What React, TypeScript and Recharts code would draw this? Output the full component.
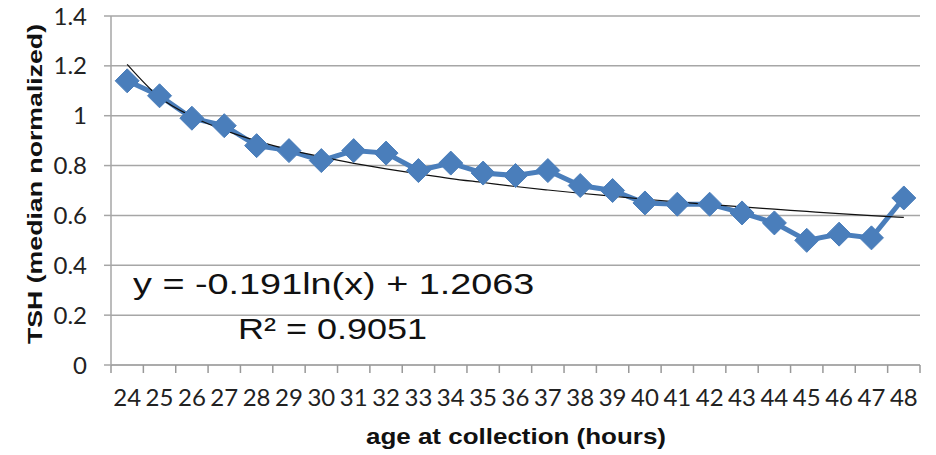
import React from 'react';
import { ComposedChart, Line, XAxis, YAxis, CartesianGrid } from 'recharts';

// age at collection (hours)
const ages = [24, 25, 26, 27, 28, 29, 30, 31, 32, 33, 34, 35, 36, 37, 38, 39, 40, 41, 42, 43, 44, 45, 46, 47, 48];

// TSH median normalized
const tsh = [1.14, 1.08, 0.99, 0.96, 0.88, 0.86, 0.82, 0.86, 0.85, 0.78, 0.81, 0.77, 0.76, 0.78, 0.72, 0.7, 0.65, 0.645, 0.645, 0.61, 0.57, 0.5, 0.525, 0.51, 0.67];

// log trend line as drawn (y = -0.191ln(x) + 1.2063)
const trend = [1.206, 1.074, 0.997, 0.942, 0.899, 0.864, 0.835, 0.809, 0.787, 0.767, 0.748, 0.732, 0.716, 0.702, 0.689, 0.677, 0.665, 0.654, 0.644, 0.634, 0.625, 0.616, 0.607, 0.599, 0.592];

const yTicks = [0, 0.2, 0.4, 0.6, 0.8, 1, 1.2, 1.4];

const data = ages.map((age, i) => ({ age, tsh: tsh[i], trend: trend[i] }));
// category boundaries, where Excel puts its tick marks
const edges = [...ages.map((a) => a - 0.5), ages[ages.length - 1] + 0.5];

const BLUE = '#4a7ebb';
const GRID = '#a6a6a6';

const Diamond = (props: any) => {
  const { cx, cy } = props;
  if (cx == null || cy == null) return null;
  const r = 12;
  return (
    <polygon
      points={`${cx},${cy - r} ${cx + r},${cy} ${cx},${cy + r} ${cx - r},${cy}`}
      fill={BLUE}
      stroke={BLUE}
    />
  );
};

const tickFont = { fontFamily: 'Lato, sans-serif', fontSize: 24, fill: '#222' };
const arial = '"Liberation Sans", Arial, sans-serif';

export default function App() {
  return (
    <div style={{ position: 'absolute', left: 0, top: 0, width: 936, height: 455, background: '#fff' }}>
      <ComposedChart width={936} height={455} data={data} margin={{ top: 16, right: 16, bottom: 0, left: 0 }}>
        <CartesianGrid vertical={false} stroke={GRID} strokeWidth={1.5} />
        {/* axis line + tick marks between categories */}
        <XAxis
          type="number"
          dataKey="age"
          domain={[23.5, 48.5]}
          ticks={edges}
          interval={0}
          tick={{ fontSize: 1, fill: 'none' }}
          height={1}
          tickSize={8}
          tickMargin={0}
          axisLine={{ stroke: GRID, strokeWidth: 1.5 }}
          tickLine={{ stroke: '#999', strokeWidth: 1.5 }}
        />
        {/* category labels */}
        <XAxis
          xAxisId="lab"
          type="number"
          dataKey="age"
          domain={[23.5, 48.5]}
          ticks={ages}
          interval={0}
          height={89}
          tickLine={false}
          axisLine={false}
          tickMargin={17}
          tick={tickFont}
        />
        <YAxis
          domain={[0, 1.4]}
          ticks={yTicks}
          width={111}
          tickSize={7}
          tickMargin={17}
          axisLine={{ stroke: GRID, strokeWidth: 1.5 }}
          tickLine={{ stroke: GRID, strokeWidth: 1.5 }}
          tick={tickFont}
        />
        <Line
          dataKey="tsh"
          stroke={BLUE}
          strokeWidth={5}
          dot={<Diamond />}
          activeDot={false}
          isAnimationActive={false}
        />
        <Line
          dataKey="trend"
          type="monotone"
          stroke="#111"
          strokeWidth={1.2}
          dot={false}
          activeDot={false}
          isAnimationActive={false}
        />
      </ComposedChart>
      <div
        style={{
          position: 'absolute', left: 35, top: 184, transform: 'translate(-50%, -50%) rotate(-90deg) scaleX(1.27)',
          whiteSpace: 'nowrap', fontFamily: arial, fontWeight: 'bold', fontSize: 21, color: '#111',
        }}
      >
        TSH (median normalized)
      </div>
      <div
        style={{
          position: 'absolute', left: 516, top: 437, transform: 'translate(-50%, -50%) scaleX(1.18)',
          whiteSpace: 'nowrap', fontFamily: arial, fontWeight: 'bold', fontSize: 22, color: '#111',
        }}
      >
        age at collection (hours)
      </div>
      <div
        style={{
          position: 'absolute', left: 133, top: 266, whiteSpace: 'nowrap', transform: 'scaleX(1.26)', transformOrigin: 'left center',
          fontFamily: arial, fontSize: 30, lineHeight: '36px', color: '#111',
        }}
      >
        y = -0.191ln(x) + 1.2063
      </div>
      <div
        style={{
          position: 'absolute', left: 238, top: 311, whiteSpace: 'nowrap', transform: 'scaleX(1.2)', transformOrigin: 'left center',
          fontFamily: arial, fontSize: 30, lineHeight: '36px', color: '#111',
        }}
      >
        R² = 0.9051
      </div>
    </div>
  );
}
